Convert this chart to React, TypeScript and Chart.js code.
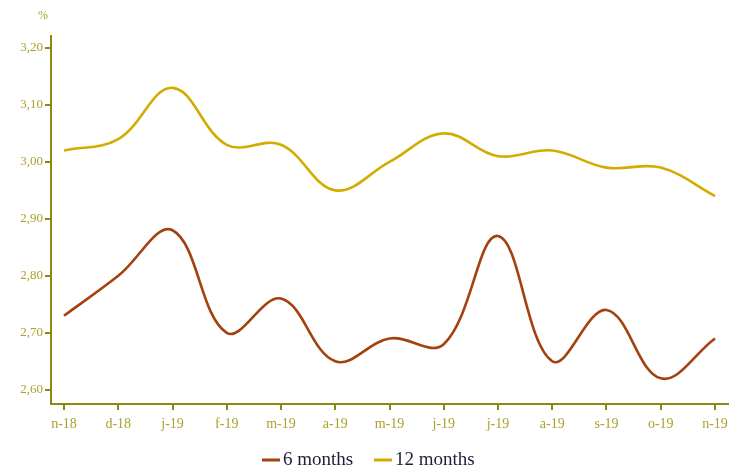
import React, { useEffect, useRef } from "react";
import { Chart, registerables } from "chart.js";

Chart.register(...registerables);

const categories = ["n-18", "d-18", "j-19", "f-19", "m-19", "a-19", "m-19", "j-19", "j-19", "a-19", "s-19", "o-19", "n-19"];
const sixMonths = [2.73, 2.80, 2.88, 2.70, 2.76, 2.65, 2.69, 2.68, 2.87, 2.65, 2.74, 2.62, 2.69];
const twelveMonths = [3.02, 3.04, 3.13, 3.03, 3.03, 2.95, 3.00, 3.05, 3.01, 3.02, 2.99, 2.99, 2.94];
const yTicks = [2.6, 2.7, 2.8, 2.9, 3.0, 3.1, 3.2];
const seriesNames = ["6 months", "12 months"];

const COLOR_6 = "#A3410F";
const COLOR_12 = "#D4AC00";
const AXIS = "#8A8A12";
const TICK_TXT = "#ADA02A";

export default function App() {
  const ref = useRef<HTMLCanvasElement | null>(null);
  useEffect(() => {
    if (!ref.current) return;
    const extras = {
      id: "extras",
      afterDraw(chart: any) {
        const ctx = chart.ctx;
        ctx.save();
        ctx.fillStyle = TICK_TXT;
        ctx.font = "12px 'Liberation Serif', serif";
        ctx.textAlign = "center";
        ctx.textBaseline = "middle";
        ctx.fillText("%", 43, 16);
        // legend
        const items = [
          { name: seriesNames[0], color: COLOR_6, x: 262 },
          { name: seriesNames[1], color: COLOR_12, x: 374 },
        ];
        ctx.font = "19px 'Liberation Serif', serif";
        ctx.textAlign = "left";
        for (const it of items) {
          ctx.strokeStyle = it.color;
          ctx.lineWidth = 3;
          ctx.beginPath();
          ctx.moveTo(it.x, 460);
          ctx.lineTo(it.x + 18, 460);
          ctx.stroke();
          ctx.fillStyle = "#1E1E3C";
          ctx.fillText(it.name, it.x + 21, 460);
        }
        ctx.restore();
      },
    };
    const chart = new Chart(ref.current, {
      type: "line",
      data: {
        datasets: [
          {
            label: seriesNames[0],
            data: sixMonths.map((v, i) => ({ x: i, y: v })),
            borderColor: COLOR_6,
            borderWidth: 2.6,
            pointRadius: 0,
            tension: 0.38,
            fill: false,
          },
          {
            label: seriesNames[1],
            data: twelveMonths.map((v, i) => ({ x: i, y: v })),
            borderColor: COLOR_12,
            borderWidth: 2.6,
            pointRadius: 0,
            tension: 0.38,
            fill: false,
          },
        ],
      },
      options: {
        animation: false,
        responsive: false,
        maintainAspectRatio: false,
        layout: { padding: { top: 36, right: 12, bottom: 0, left: 0 } },
        plugins: { legend: { display: false }, tooltip: { enabled: false } },
        scales: {
          x: {
            type: "linear",
            min: -0.24,
            max: 12.24,
            afterBuildTicks: (s: any) => {
              s.ticks = categories.map((_, i) => ({ value: i }));
            },
            afterFit: (s: any) => {
              s.height = 67;
            },
            ticks: {
              autoSkip: false,
              maxRotation: 0,
              color: TICK_TXT,
              padding: 6,
              font: { family: "'Liberation Serif', serif", size: 14 },
              callback: (v: any) => categories[Math.round(v)] ?? "",
            },
            grid: { drawOnChartArea: false, drawTicks: true, tickLength: 6, color: AXIS, lineWidth: 2 },
            border: { display: true, color: AXIS, width: 2 },
          },
          y: {
            type: "linear",
            min: 2.575,
            max: 3.221,
            afterBuildTicks: (s: any) => {
              s.ticks = yTicks.map((v) => ({ value: v }));
            },
            afterFit: (s: any) => {
              s.width = 51;
            },
            ticks: {
              color: TICK_TXT,
              padding: 2,
              font: { family: "'Liberation Serif', serif", size: 13 },
              callback: (v: any) => Number(v).toFixed(2).replace(".", ","),
            },
            grid: { drawOnChartArea: false, drawTicks: true, tickLength: 6, color: AXIS, lineWidth: 2 },
            border: { display: true, color: AXIS, width: 2 },
          },
        },
      },
      plugins: [extras],
    } as any);
    return () => chart.destroy();
  }, []);
  return (
    <div style={{ position: "absolute", left: 0, top: 0, width: 740, height: 471, background: "#fff" }}>
      <canvas ref={ref} width={740} height={471} style={{ width: 740, height: 471 }} />
    </div>
  );
}
